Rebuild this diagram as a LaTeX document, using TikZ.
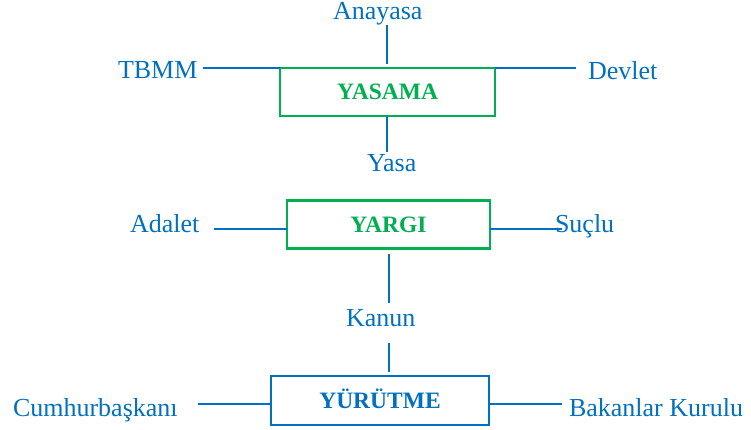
\documentclass[tikz,border=0pt]{standalone}
\usepackage{fontspec}
\setmainfont{Liberation Serif}
\definecolor{oblue}{HTML}{0070C0}
\definecolor{ogreen}{HTML}{00B050}
\begin{document}
\begin{tikzpicture}[x=1pt,y=-1pt,
  lbl/.style={inner sep=0pt,outer sep=0pt,anchor=base west,text=oblue,font=\fontsize{26}{28}\selectfont},
  box/.style={draw,line width=2.2pt,inner sep=0pt,outer sep=0pt,text height=16pt,text depth=0pt,font=\fontsize{23.5}{26}\selectfont\bfseries},
  gbox/.style={box,draw=ogreen,text=ogreen},
  bbox/.style={box,draw=oblue,text=oblue},
  conn/.style={draw=oblue,line width=2pt}]
\useasboundingbox (0,0) rectangle (751,430);
% boxes
\node[gbox,minimum width=215pt,minimum height=48pt] (yasama) at (387.5,92) {YASAMA};
\node[gbox,minimum width=203pt,minimum height=48pt] (yargi) at (388.5,224.5) {YARGI};
\node[bbox,minimum width=218pt,minimum height=49pt] (yurutme) at (380,400.5) {YÜRÜTME};
% labels
\node[lbl] (anayasa) at (333,19.5) {Anayasa};
\node[lbl] (tbmm) at (118,79) {TBMM};
\node[lbl] (devlet) at (588,80) {Devlet};
\node[lbl] (yasa) at (367,172) {Yasa};
\node[lbl] (adalet) at (130,232) {Adalet};
\node[lbl] (suclu) at (555,232) {Suçlu};
\node[lbl] (kanun) at (346,326) {Kanun};
\node[lbl] (cumhur) at (13,416) {Cumhurbaşkanı};
\node[lbl] (bakan) at (569,416) {Bakanlar Kurulu};
% connectors: YASAMA
\draw[conn] ([xshift=-1pt]yasama.north |- anayasa.south) -- ([shift={(-1pt,4pt)}]yasama.north);
\draw[conn] ([xshift=6pt]tbmm.east |- yasama.north west) -- (yasama.north west);
\draw[conn] (yasama.north east) -- ([xshift=-12pt]devlet.west |- yasama.north east);
\draw[conn] ([xshift=-1pt]yasama.south) -- ([shift={(-1pt,3pt)}]yasama.south |- yasa.north);
% connectors: YARGI
\draw[conn] ([shift={(15pt,3pt)}]adalet.base east) coordinate (a1) -- (a1 -| yargi.west);
\draw[conn] (a1 -| yargi.east) -- ([xshift=7pt]suclu.west |- a1);
\draw[conn] ([yshift=-5pt]yargi.south) -- ([yshift=6pt]yargi.south |- kanun.north);
% connectors: YURUTME
\draw[conn] ([yshift=-17pt]kanun.base -| yargi.south) -- ([yshift=4pt]yargi.south |- yurutme.north);
\draw[conn] ([shift={(20pt,12pt)}]cumhur.base east) coordinate (c1) -- (c1 -| yurutme.west);
\draw[conn] (c1 -| yurutme.east) -- ([xshift=-7pt]bakan.west |- c1);
\end{tikzpicture}
\end{document}
